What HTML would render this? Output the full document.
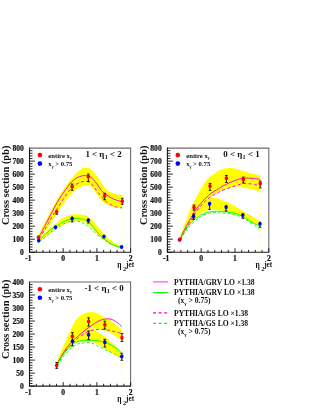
<!DOCTYPE html>
<html><head><meta charset="utf-8"><title>chart</title>
<style>
html,body{margin:0;padding:0;background:#fff;}
body{width:322px;height:416px;overflow:hidden;}
svg{display:block;will-change:transform;}
text{font-family:"Liberation Serif",serif;font-weight:bold;fill:#111;}
.tk{font-size:7.6px;stroke:#111;stroke-width:0.2px;}
.yt{font-size:10.4px;}
.xt{font-size:10.5px;font-weight:bold;}
.xs{font-size:7.3px;}
.xs2{font-size:6.5px;}
.lg{font-size:6.7px;}
.lgs{font-size:4px;}
.tt{font-size:8.9px;}
.tsub{font-size:6.2px;}
.lt{font-size:7.6px;}
.lts{font-size:4.8px;}
</style></head><body>
<svg width="322" height="416" viewBox="0 0 322 416">
<rect width="322" height="416" fill="#fff"/>
<path d="M38.20 234.50 C38.43 234.17 38.43 234.63 39.60 232.50 C40.77 230.37 43.53 224.95 45.20 221.70 C46.87 218.45 48.15 215.80 49.60 213.00 C51.05 210.20 52.47 207.52 53.90 204.90 C55.33 202.28 56.75 199.65 58.20 197.30 C59.65 194.95 61.15 192.92 62.60 190.80 C64.05 188.68 65.47 186.57 66.90 184.60 C68.33 182.63 69.58 180.97 71.20 179.00 C72.82 177.03 74.78 174.53 76.60 172.80 C78.42 171.07 80.63 169.43 82.10 168.60 C83.57 167.77 84.33 167.92 85.40 167.80 C86.47 167.68 87.60 167.70 88.50 167.90 C89.40 168.10 89.52 167.82 90.80 169.00 C92.08 170.18 94.40 172.65 96.20 175.00 C98.00 177.35 100.07 180.85 101.60 183.10 C103.13 185.35 103.87 186.97 105.40 188.50 C106.93 190.03 109.00 191.33 110.80 192.30 C112.60 193.27 114.27 193.85 116.20 194.30 C118.13 194.75 121.37 194.88 122.40 195.00 L122.40 208.00 C121.37 207.92 118.13 207.80 116.20 207.50 C114.27 207.20 112.60 206.85 110.80 206.20 C109.00 205.55 106.93 204.57 105.40 203.60 C103.87 202.63 103.13 202.10 101.60 200.40 C100.07 198.70 98.00 195.73 96.20 193.40 C94.40 191.07 92.08 187.73 90.80 186.40 C89.52 185.07 89.40 185.58 88.50 185.40 C87.60 185.22 86.47 185.13 85.40 185.30 C84.33 185.47 83.57 185.77 82.10 186.40 C80.63 187.03 78.28 187.97 76.60 189.10 C74.92 190.23 73.62 191.57 72.00 193.20 C70.38 194.83 68.47 196.95 66.90 198.90 C65.33 200.85 64.05 202.82 62.60 204.90 C61.15 206.98 59.65 209.23 58.20 211.40 C56.75 213.57 55.25 215.72 53.90 217.90 C52.55 220.08 51.40 222.48 50.10 224.50 C48.80 226.52 47.67 227.95 46.10 230.00 C44.53 232.05 41.95 235.22 40.70 236.80 C39.45 238.38 38.95 239.05 38.60 239.50 Z" fill="#ff0" stroke="none"/>
<path d="M38.40 239.00 C38.78 238.72 39.42 238.57 40.70 237.30 C41.98 236.03 44.30 233.20 46.10 231.40 C47.90 229.60 50.02 227.68 51.50 226.50 C52.98 225.32 53.52 225.45 55.00 224.30 C56.48 223.15 58.60 220.92 60.40 219.60 C62.20 218.28 64.00 217.22 65.80 216.40 C67.60 215.58 69.40 215.07 71.20 214.70 C73.00 214.33 74.78 214.20 76.60 214.20 C78.42 214.20 80.63 214.52 82.10 214.70 C83.57 214.88 83.95 214.67 85.40 215.30 C86.85 215.93 89.00 216.97 90.80 218.50 C92.60 220.03 94.40 222.42 96.20 224.50 C98.00 226.58 100.07 229.18 101.60 231.00 C103.13 232.82 103.87 233.87 105.40 235.40 C106.93 236.93 109.00 238.80 110.80 240.20 C112.60 241.60 114.40 242.78 116.20 243.80 C118.00 244.82 120.70 245.88 121.60 246.30 L121.60 247.80 C120.70 247.58 118.00 247.08 116.20 246.50 C114.40 245.92 112.60 245.28 110.80 244.30 C109.00 243.32 106.93 241.65 105.40 240.60 C103.87 239.55 103.13 239.33 101.60 238.00 C100.07 236.67 98.00 234.50 96.20 232.60 C94.40 230.70 92.60 228.28 90.80 226.60 C89.00 224.92 86.85 223.30 85.40 222.50 C83.95 221.70 83.57 222.10 82.10 221.80 C80.63 221.50 78.42 220.80 76.60 220.70 C74.78 220.60 73.00 220.78 71.20 221.20 C69.40 221.62 67.60 222.38 65.80 223.20 C64.00 224.02 62.20 225.07 60.40 226.10 C58.60 227.13 56.48 228.43 55.00 229.40 C53.52 230.37 52.98 230.75 51.50 231.90 C50.02 233.05 47.90 234.85 46.10 236.30 C44.30 237.75 41.95 239.55 40.70 240.60 C39.45 241.65 38.95 242.27 38.60 242.60 Z" fill="#ff0" stroke="none"/>
<line x1="38.60" y1="242.00" x2="38.60" y2="252.20" stroke="#ffffcc" stroke-width="0.7"/>
<line x1="122.40" y1="195.00" x2="122.40" y2="252.20" stroke="#ffffcc" stroke-width="0.7"/>
<path d="M38.90 238.50 C39.10 238.22 39.08 238.32 40.10 236.80 C41.12 235.28 43.60 231.65 45.00 229.40 C46.40 227.15 47.20 225.58 48.50 223.30 C49.80 221.02 51.18 218.40 52.80 215.70 C54.42 213.00 56.40 209.95 58.20 207.10 C60.00 204.25 61.78 201.32 63.60 198.60 C65.42 195.88 67.28 192.98 69.10 190.80 C70.92 188.62 72.70 186.87 74.50 185.50 C76.30 184.13 78.08 183.30 79.90 182.60 C81.72 181.90 83.58 181.22 85.40 181.30 C87.22 181.38 89.00 181.63 90.80 183.10 C92.60 184.57 94.40 187.85 96.20 190.10 C98.00 192.35 100.07 194.78 101.60 196.60 C103.13 198.42 103.87 199.63 105.40 201.00 C106.93 202.37 109.00 203.82 110.80 204.80 C112.60 205.78 114.35 206.37 116.20 206.90 C118.05 207.43 120.95 207.82 121.90 208.00" fill="none" stroke="#f0c" stroke-width="0.95" stroke-dasharray="3.1 2.4"/>
<path d="M39.50 241.50 C40.42 240.80 43.18 238.80 45.00 237.30 C46.82 235.80 48.60 233.95 50.40 232.50 C52.20 231.05 54.50 229.40 55.80 228.60 C57.10 227.80 56.88 228.48 58.20 227.70 C59.52 226.92 61.88 224.88 63.70 223.90 C65.52 222.92 67.30 222.28 69.10 221.80 C70.90 221.32 72.70 221.00 74.50 221.00 C76.30 221.00 78.47 221.43 79.90 221.80 C81.33 222.17 82.18 222.85 83.10 223.20 C84.02 223.55 84.12 223.05 85.40 223.90 C86.68 224.75 89.00 226.67 90.80 228.30 C92.60 229.93 94.40 232.08 96.20 233.70 C98.00 235.32 100.07 236.85 101.60 238.00 C103.13 239.15 103.87 239.58 105.40 240.60 C106.93 241.62 109.00 243.15 110.80 244.10 C112.60 245.05 114.40 245.72 116.20 246.30 C118.00 246.88 120.70 247.38 121.60 247.60" fill="none" stroke="#0f0" stroke-width="0.95" stroke-dasharray="2.6 2.3"/>
<path d="M38.50 237.30 C38.68 237.03 38.88 236.95 39.60 235.70 C40.32 234.45 41.68 231.87 42.80 229.80 C43.92 227.73 44.98 225.83 46.30 223.30 C47.62 220.77 49.25 217.40 50.70 214.60 C52.15 211.80 53.57 209.12 55.00 206.50 C56.43 203.88 57.87 201.25 59.30 198.90 C60.73 196.55 62.15 194.50 63.60 192.40 C65.05 190.30 66.67 188.03 68.00 186.30 C69.33 184.57 70.17 183.40 71.60 182.00 C73.03 180.60 74.85 178.92 76.60 177.90 C78.35 176.88 80.63 176.30 82.10 175.90 C83.57 175.50 83.95 175.28 85.40 175.50 C86.85 175.72 89.00 175.93 90.80 177.20 C92.60 178.47 94.40 180.85 96.20 183.10 C98.00 185.35 100.07 188.90 101.60 190.70 C103.13 192.50 103.87 192.73 105.40 193.90 C106.93 195.07 109.00 196.67 110.80 197.70 C112.60 198.73 114.35 199.47 116.20 200.10 C118.05 200.73 120.95 201.27 121.90 201.50" fill="none" stroke="#f0c" stroke-width="0.95"/>
<path d="M38.70 240.60 C38.93 240.42 38.87 240.68 40.10 239.50 C41.33 238.32 44.20 235.25 46.10 233.50 C48.00 231.75 50.02 230.02 51.50 229.00 C52.98 227.98 53.52 228.30 55.00 227.40 C56.48 226.50 58.60 224.72 60.40 223.60 C62.20 222.48 64.00 221.48 65.80 220.70 C67.60 219.92 69.40 219.32 71.20 218.90 C73.00 218.48 74.78 218.17 76.60 218.20 C78.42 218.23 80.63 218.82 82.10 219.10 C83.57 219.38 83.95 219.10 85.40 219.90 C86.85 220.70 89.00 222.05 90.80 223.90 C92.60 225.75 94.40 228.83 96.20 231.00 C98.00 233.17 100.07 235.38 101.60 236.90 C103.13 238.42 103.87 238.95 105.40 240.10 C106.93 241.25 109.00 242.82 110.80 243.80 C112.60 244.78 114.40 245.42 116.20 246.00 C118.00 246.58 120.70 247.08 121.60 247.30" fill="none" stroke="#0f0" stroke-width="0.95"/>
<path d="M29.50 148.10 H130.60 V252.20" fill="none" stroke="#6a6a6a" stroke-width="1.1"/>
<path d="M29.50 147.60 V252.20 H131.10" fill="none" stroke="#1a1a1a" stroke-width="1.1"/>
<line x1="29.50" y1="252.20" x2="34.90" y2="252.20" stroke="#111" stroke-width="0.9"/>
<line x1="29.50" y1="249.60" x2="32.50" y2="249.60" stroke="#111" stroke-width="0.9"/>
<line x1="29.50" y1="246.99" x2="32.50" y2="246.99" stroke="#111" stroke-width="0.9"/>
<line x1="29.50" y1="244.39" x2="32.50" y2="244.39" stroke="#111" stroke-width="0.9"/>
<line x1="29.50" y1="241.79" x2="32.50" y2="241.79" stroke="#111" stroke-width="0.9"/>
<line x1="29.50" y1="239.19" x2="34.90" y2="239.19" stroke="#111" stroke-width="0.9"/>
<line x1="29.50" y1="236.58" x2="32.50" y2="236.58" stroke="#111" stroke-width="0.9"/>
<line x1="29.50" y1="233.98" x2="32.50" y2="233.98" stroke="#111" stroke-width="0.9"/>
<line x1="29.50" y1="231.38" x2="32.50" y2="231.38" stroke="#111" stroke-width="0.9"/>
<line x1="29.50" y1="228.78" x2="32.50" y2="228.78" stroke="#111" stroke-width="0.9"/>
<line x1="29.50" y1="226.17" x2="34.90" y2="226.17" stroke="#111" stroke-width="0.9"/>
<line x1="29.50" y1="223.57" x2="32.50" y2="223.57" stroke="#111" stroke-width="0.9"/>
<line x1="29.50" y1="220.97" x2="32.50" y2="220.97" stroke="#111" stroke-width="0.9"/>
<line x1="29.50" y1="218.37" x2="32.50" y2="218.37" stroke="#111" stroke-width="0.9"/>
<line x1="29.50" y1="215.76" x2="32.50" y2="215.76" stroke="#111" stroke-width="0.9"/>
<line x1="29.50" y1="213.16" x2="34.90" y2="213.16" stroke="#111" stroke-width="0.9"/>
<line x1="29.50" y1="210.56" x2="32.50" y2="210.56" stroke="#111" stroke-width="0.9"/>
<line x1="29.50" y1="207.96" x2="32.50" y2="207.96" stroke="#111" stroke-width="0.9"/>
<line x1="29.50" y1="205.35" x2="32.50" y2="205.35" stroke="#111" stroke-width="0.9"/>
<line x1="29.50" y1="202.75" x2="32.50" y2="202.75" stroke="#111" stroke-width="0.9"/>
<line x1="29.50" y1="200.15" x2="34.90" y2="200.15" stroke="#111" stroke-width="0.9"/>
<line x1="29.50" y1="197.55" x2="32.50" y2="197.55" stroke="#111" stroke-width="0.9"/>
<line x1="29.50" y1="194.94" x2="32.50" y2="194.94" stroke="#111" stroke-width="0.9"/>
<line x1="29.50" y1="192.34" x2="32.50" y2="192.34" stroke="#111" stroke-width="0.9"/>
<line x1="29.50" y1="189.74" x2="32.50" y2="189.74" stroke="#111" stroke-width="0.9"/>
<line x1="29.50" y1="187.14" x2="34.90" y2="187.14" stroke="#111" stroke-width="0.9"/>
<line x1="29.50" y1="184.53" x2="32.50" y2="184.53" stroke="#111" stroke-width="0.9"/>
<line x1="29.50" y1="181.93" x2="32.50" y2="181.93" stroke="#111" stroke-width="0.9"/>
<line x1="29.50" y1="179.33" x2="32.50" y2="179.33" stroke="#111" stroke-width="0.9"/>
<line x1="29.50" y1="176.73" x2="32.50" y2="176.73" stroke="#111" stroke-width="0.9"/>
<line x1="29.50" y1="174.12" x2="34.90" y2="174.12" stroke="#111" stroke-width="0.9"/>
<line x1="29.50" y1="171.52" x2="32.50" y2="171.52" stroke="#111" stroke-width="0.9"/>
<line x1="29.50" y1="168.92" x2="32.50" y2="168.92" stroke="#111" stroke-width="0.9"/>
<line x1="29.50" y1="166.32" x2="32.50" y2="166.32" stroke="#111" stroke-width="0.9"/>
<line x1="29.50" y1="163.72" x2="32.50" y2="163.72" stroke="#111" stroke-width="0.9"/>
<line x1="29.50" y1="161.11" x2="34.90" y2="161.11" stroke="#111" stroke-width="0.9"/>
<line x1="29.50" y1="158.51" x2="32.50" y2="158.51" stroke="#111" stroke-width="0.9"/>
<line x1="29.50" y1="155.91" x2="32.50" y2="155.91" stroke="#111" stroke-width="0.9"/>
<line x1="29.50" y1="153.31" x2="32.50" y2="153.31" stroke="#111" stroke-width="0.9"/>
<line x1="29.50" y1="150.70" x2="32.50" y2="150.70" stroke="#111" stroke-width="0.9"/>
<line x1="29.50" y1="252.20" x2="29.50" y2="248.20" stroke="#111" stroke-width="0.9"/>
<line x1="36.24" y1="252.20" x2="36.24" y2="249.90" stroke="#111" stroke-width="0.9"/>
<line x1="42.98" y1="252.20" x2="42.98" y2="249.90" stroke="#111" stroke-width="0.9"/>
<line x1="49.72" y1="252.20" x2="49.72" y2="249.90" stroke="#111" stroke-width="0.9"/>
<line x1="56.46" y1="252.20" x2="56.46" y2="249.90" stroke="#111" stroke-width="0.9"/>
<line x1="63.20" y1="252.20" x2="63.20" y2="248.20" stroke="#111" stroke-width="0.9"/>
<line x1="69.94" y1="252.20" x2="69.94" y2="249.90" stroke="#111" stroke-width="0.9"/>
<line x1="76.68" y1="252.20" x2="76.68" y2="249.90" stroke="#111" stroke-width="0.9"/>
<line x1="83.42" y1="252.20" x2="83.42" y2="249.90" stroke="#111" stroke-width="0.9"/>
<line x1="90.16" y1="252.20" x2="90.16" y2="249.90" stroke="#111" stroke-width="0.9"/>
<line x1="96.90" y1="252.20" x2="96.90" y2="248.20" stroke="#111" stroke-width="0.9"/>
<line x1="103.64" y1="252.20" x2="103.64" y2="249.90" stroke="#111" stroke-width="0.9"/>
<line x1="110.38" y1="252.20" x2="110.38" y2="249.90" stroke="#111" stroke-width="0.9"/>
<line x1="117.12" y1="252.20" x2="117.12" y2="249.90" stroke="#111" stroke-width="0.9"/>
<line x1="123.86" y1="252.20" x2="123.86" y2="249.90" stroke="#111" stroke-width="0.9"/>
<line x1="130.60" y1="252.20" x2="130.60" y2="248.20" stroke="#111" stroke-width="0.9"/>
<text x="23.80" y="254.90" text-anchor="end" class="tk">0</text>
<text x="23.80" y="241.89" text-anchor="end" class="tk">100</text>
<text x="23.80" y="228.87" text-anchor="end" class="tk">200</text>
<text x="23.80" y="215.86" text-anchor="end" class="tk">300</text>
<text x="23.80" y="202.85" text-anchor="end" class="tk">400</text>
<text x="23.80" y="189.84" text-anchor="end" class="tk">500</text>
<text x="23.80" y="176.82" text-anchor="end" class="tk">600</text>
<text x="23.80" y="163.81" text-anchor="end" class="tk">700</text>
<text x="23.80" y="150.80" text-anchor="end" class="tk">800</text>
<text x="28.30" y="261.00" text-anchor="middle" class="tk">-1</text>
<text x="63.20" y="261.00" text-anchor="middle" class="tk">0</text>
<text x="96.90" y="261.00" text-anchor="middle" class="tk">1</text>
<text x="130.60" y="261.00" text-anchor="middle" class="tk">2</text>
<text transform="translate(9.00 185.35) rotate(-90)" text-anchor="middle" class="yt">Cross section (pb)</text>
<text transform="translate(117.30 268.00) scale(0.72 1)" class="xt">η</text>
<text x="123.00" y="270.80" class="xs2">2</text>
<text x="126.00" y="266.60" class="xs">jet</text>
<circle cx="39.90" cy="155.10" r="2.3" fill="#f00"/>
<circle cx="39.90" cy="163.60" r="2.3" fill="#00f"/>
<text x="48.30" y="157.70" class="lg">entire x<tspan class="lgs" dy="1.6">γ</tspan></text>
<text x="48.30" y="165.90" class="lg">x<tspan class="lgs" dy="1.6">γ</tspan><tspan dy="-1.6"> &gt; 0.75</tspan></text>
<text x="85.40" y="156.90" class="tt">1 &lt; η<tspan class="tsub" dx="0.3" dy="2.3">1</tspan><tspan dy="-2.3"> &lt; 2</tspan></text>
<ellipse cx="38.50" cy="237.30" rx="1.75" ry="2.05" fill="#f00"/>
<line x1="56.70" y1="209.90" x2="56.70" y2="214.30" stroke="#000" stroke-width="0.9"/>
<line x1="55.30" y1="214.30" x2="58.10" y2="214.30" stroke="#000" stroke-width="0.8"/>
<ellipse cx="56.70" cy="211.90" rx="1.75" ry="2.05" fill="#f00"/>
<line x1="72.10" y1="184.10" x2="72.10" y2="190.40" stroke="#000" stroke-width="0.9"/>
<line x1="70.70" y1="184.10" x2="73.50" y2="184.10" stroke="#000" stroke-width="0.8"/>
<line x1="70.70" y1="190.40" x2="73.50" y2="190.40" stroke="#000" stroke-width="0.8"/>
<ellipse cx="72.10" cy="186.70" rx="1.75" ry="2.05" fill="#f00"/>
<line x1="88.30" y1="174.00" x2="88.30" y2="181.40" stroke="#000" stroke-width="0.9"/>
<line x1="86.90" y1="174.00" x2="89.70" y2="174.00" stroke="#000" stroke-width="0.8"/>
<line x1="86.90" y1="181.40" x2="89.70" y2="181.40" stroke="#000" stroke-width="0.8"/>
<ellipse cx="88.30" cy="176.60" rx="1.75" ry="2.05" fill="#f00"/>
<line x1="104.60" y1="193.30" x2="104.60" y2="199.80" stroke="#000" stroke-width="0.9"/>
<line x1="103.20" y1="193.30" x2="106.00" y2="193.30" stroke="#000" stroke-width="0.8"/>
<line x1="103.20" y1="199.80" x2="106.00" y2="199.80" stroke="#000" stroke-width="0.8"/>
<ellipse cx="104.60" cy="195.80" rx="1.75" ry="2.05" fill="#f00"/>
<line x1="122.30" y1="198.30" x2="122.30" y2="204.30" stroke="#000" stroke-width="0.9"/>
<line x1="120.90" y1="198.30" x2="123.70" y2="198.30" stroke="#000" stroke-width="0.8"/>
<line x1="120.90" y1="204.30" x2="123.70" y2="204.30" stroke="#000" stroke-width="0.8"/>
<ellipse cx="122.30" cy="201.30" rx="1.75" ry="2.05" fill="#f00"/>
<ellipse cx="38.70" cy="240.60" rx="1.75" ry="2.05" fill="#00f"/>
<line x1="55.50" y1="227.30" x2="55.50" y2="229.30" stroke="#000" stroke-width="0.9"/>
<ellipse cx="55.50" cy="227.30" rx="1.75" ry="2.05" fill="#00f"/>
<line x1="72.10" y1="216.50" x2="72.10" y2="221.90" stroke="#000" stroke-width="0.9"/>
<line x1="70.70" y1="221.90" x2="73.50" y2="221.90" stroke="#000" stroke-width="0.8"/>
<ellipse cx="72.10" cy="218.50" rx="1.75" ry="2.05" fill="#00f"/>
<line x1="88.30" y1="218.20" x2="88.30" y2="223.00" stroke="#000" stroke-width="0.9"/>
<line x1="86.90" y1="223.00" x2="89.70" y2="223.00" stroke="#000" stroke-width="0.8"/>
<ellipse cx="88.30" cy="220.20" rx="1.75" ry="2.05" fill="#00f"/>
<line x1="104.00" y1="236.50" x2="104.00" y2="238.50" stroke="#000" stroke-width="0.9"/>
<ellipse cx="104.00" cy="236.50" rx="1.75" ry="2.05" fill="#00f"/>
<ellipse cx="121.60" cy="247.00" rx="1.75" ry="2.05" fill="#00f"/>
<path d="M179.50 237.50 C180.05 236.12 181.70 232.02 182.80 229.20 C183.90 226.38 185.02 223.48 186.10 220.60 C187.18 217.72 188.22 214.62 189.30 211.90 C190.38 209.18 191.58 206.45 192.60 204.30 C193.62 202.15 194.03 201.53 195.40 199.00 C196.77 196.47 199.00 192.12 200.80 189.10 C202.60 186.08 204.40 183.17 206.20 180.90 C208.00 178.63 209.78 177.03 211.60 175.50 C213.42 173.97 215.63 172.60 217.10 171.70 C218.57 170.80 218.95 170.67 220.40 170.10 C221.85 169.53 224.00 168.65 225.80 168.30 C227.60 167.95 229.40 167.88 231.20 168.00 C233.00 168.12 234.57 168.50 236.60 169.00 C238.63 169.50 241.37 170.37 243.40 171.00 C245.43 171.63 247.00 172.28 248.80 172.80 C250.60 173.32 252.30 173.65 254.20 174.10 C256.10 174.55 259.20 175.27 260.20 175.50 L260.20 191.40 C259.20 191.18 256.10 190.53 254.20 190.10 C252.30 189.67 250.60 189.25 248.80 188.80 C247.00 188.35 244.87 187.77 243.40 187.40 C241.93 187.03 241.13 186.75 240.00 186.60 C238.87 186.45 238.07 186.40 236.60 186.50 C235.13 186.60 233.00 186.87 231.20 187.20 C229.40 187.53 227.60 187.92 225.80 188.50 C224.00 189.08 222.20 189.85 220.40 190.70 C218.60 191.55 216.53 192.68 215.00 193.60 C213.47 194.52 212.55 195.28 211.20 196.20 C209.85 197.12 208.43 197.55 206.90 199.10 C205.37 200.65 203.48 203.52 202.00 205.50 C200.52 207.48 199.40 208.92 198.00 211.00 C196.60 213.08 195.05 215.67 193.60 218.00 C192.15 220.33 190.73 222.77 189.30 225.00 C187.87 227.23 186.55 228.73 185.00 231.40 C183.45 234.07 180.83 239.40 180.00 241.00 Z" fill="#ff0" stroke="none"/>
<path d="M179.50 237.50 C180.17 236.08 182.08 231.92 183.50 229.00 C184.92 226.08 186.42 222.92 188.00 220.00 C189.58 217.08 191.33 213.92 193.00 211.50 C194.67 209.08 196.42 207.17 198.00 205.50 C199.58 203.83 201.02 202.57 202.50 201.50 C203.98 200.43 205.45 199.68 206.90 199.10 C208.35 198.52 209.85 198.17 211.20 198.00 C212.55 197.83 213.47 197.87 215.00 198.10 C216.53 198.33 218.60 198.85 220.40 199.40 C222.20 199.95 224.00 200.63 225.80 201.40 C227.60 202.17 229.40 203.02 231.20 204.00 C233.00 204.98 234.57 206.08 236.60 207.30 C238.63 208.52 241.37 210.10 243.40 211.30 C245.43 212.50 247.00 213.43 248.80 214.50 C250.60 215.57 252.30 216.62 254.20 217.70 C256.10 218.78 259.20 220.45 260.20 221.00 L260.20 226.40 C259.20 225.90 256.10 224.40 254.20 223.40 C252.30 222.40 250.60 221.38 248.80 220.40 C247.00 219.42 245.43 218.50 243.40 217.50 C241.37 216.50 238.63 215.20 236.60 214.40 C234.57 213.60 233.00 213.17 231.20 212.70 C229.40 212.23 227.60 211.95 225.80 211.60 C224.00 211.25 221.93 210.93 220.40 210.60 C218.87 210.27 218.13 209.77 216.60 209.60 C215.07 209.43 213.00 209.37 211.20 209.60 C209.40 209.83 207.60 210.28 205.80 211.00 C204.00 211.72 202.20 212.65 200.40 213.90 C198.60 215.15 196.13 217.38 195.00 218.50 C193.87 219.62 194.55 219.45 193.60 220.60 C192.65 221.75 190.73 223.60 189.30 225.40 C187.87 227.20 186.55 228.80 185.00 231.40 C183.45 234.00 180.83 239.40 180.00 241.00 Z" fill="#ff0" stroke="none"/>
<line x1="179.90" y1="241.00" x2="179.90" y2="252.20" stroke="#ffffcc" stroke-width="0.7"/>
<line x1="260.20" y1="176.00" x2="260.20" y2="252.20" stroke="#ffffcc" stroke-width="0.7"/>
<path d="M180.50 239.50 C181.07 238.33 182.78 234.67 183.90 232.50 C185.02 230.33 186.12 228.40 187.20 226.50 C188.28 224.60 189.33 222.82 190.40 221.10 C191.47 219.38 192.47 217.97 193.60 216.20 C194.73 214.43 195.88 212.37 197.20 210.50 C198.52 208.63 199.88 206.82 201.50 205.00 C203.12 203.18 205.10 201.13 206.90 199.60 C208.70 198.07 210.50 196.90 212.30 195.80 C214.10 194.70 216.35 193.77 217.70 193.00 C219.05 192.23 219.05 191.85 220.40 191.20 C221.75 190.55 224.00 189.78 225.80 189.10 C227.60 188.42 229.40 187.70 231.20 187.10 C233.00 186.50 235.13 185.97 236.60 185.50 C238.07 185.03 238.87 184.63 240.00 184.30 C241.13 183.97 241.93 183.62 243.40 183.50 C244.87 183.38 247.00 183.43 248.80 183.60 C250.60 183.77 252.30 184.13 254.20 184.50 C256.10 184.87 259.20 185.58 260.20 185.80" fill="none" stroke="#f0c" stroke-width="0.95" stroke-dasharray="3.1 2.4"/>
<path d="M181.00 239.80 C181.67 238.48 183.80 233.93 185.00 231.90 C186.20 229.87 187.12 228.85 188.20 227.60 C189.28 226.35 190.42 225.48 191.50 224.40 C192.58 223.32 193.62 222.02 194.70 221.10 C195.78 220.18 196.87 219.77 198.00 218.90 C199.13 218.03 200.02 216.77 201.50 215.90 C202.98 215.03 205.10 214.25 206.90 213.70 C208.70 213.15 210.50 212.85 212.30 212.60 C214.10 212.35 216.35 212.20 217.70 212.20 C219.05 212.20 219.05 212.42 220.40 212.60 C221.75 212.78 224.00 213.08 225.80 213.30 C227.60 213.52 229.40 213.60 231.20 213.90 C233.00 214.20 234.57 214.37 236.60 215.10 C238.63 215.83 241.37 217.23 243.40 218.30 C245.43 219.37 247.00 220.42 248.80 221.50 C250.60 222.58 252.48 223.53 254.20 224.80 C255.92 226.07 258.28 228.38 259.10 229.10" fill="none" stroke="#0f0" stroke-width="0.95" stroke-dasharray="2.6 2.3"/>
<path d="M179.80 239.50 C180.30 238.42 181.75 235.17 182.80 233.00 C183.85 230.83 185.02 228.57 186.10 226.50 C187.18 224.43 188.22 222.48 189.30 220.60 C190.38 218.72 191.58 216.93 192.60 215.20 C193.62 213.47 194.10 212.08 195.40 210.20 C196.70 208.32 198.67 205.93 200.40 203.90 C202.13 201.87 204.00 199.78 205.80 198.00 C207.60 196.22 209.40 194.55 211.20 193.20 C213.00 191.85 215.07 190.85 216.60 189.90 C218.13 188.95 218.87 188.40 220.40 187.50 C221.93 186.60 224.00 185.42 225.80 184.50 C227.60 183.58 229.40 182.77 231.20 182.00 C233.00 181.23 234.97 180.48 236.60 179.90 C238.23 179.32 239.87 178.80 241.00 178.50 C242.13 178.20 242.10 178.18 243.40 178.10 C244.70 178.02 247.00 177.92 248.80 178.00 C250.60 178.08 252.30 178.38 254.20 178.60 C256.10 178.82 259.20 179.18 260.20 179.30" fill="none" stroke="#f0c" stroke-width="0.95"/>
<path d="M179.80 239.80 C180.48 238.58 182.67 234.53 183.90 232.50 C185.13 230.47 186.12 229.13 187.20 227.60 C188.28 226.07 189.33 224.57 190.40 223.30 C191.47 222.03 192.52 220.93 193.60 220.00 C194.68 219.07 195.77 218.48 196.90 217.70 C198.03 216.92 198.92 216.10 200.40 215.30 C201.88 214.50 204.00 213.52 205.80 212.90 C207.60 212.28 209.40 211.90 211.20 211.60 C213.00 211.30 215.07 211.15 216.60 211.10 C218.13 211.05 218.87 211.17 220.40 211.30 C221.93 211.43 224.00 211.70 225.80 211.90 C227.60 212.10 229.40 212.20 231.20 212.50 C233.00 212.80 234.57 212.95 236.60 213.70 C238.63 214.45 241.37 215.88 243.40 217.00 C245.43 218.12 247.00 219.33 248.80 220.40 C250.60 221.47 252.37 222.40 254.20 223.40 C256.03 224.40 258.87 225.90 259.80 226.40" fill="none" stroke="#0f0" stroke-width="0.95"/>
<path d="M167.40 148.10 H268.80 V252.20" fill="none" stroke="#6a6a6a" stroke-width="1.1"/>
<path d="M167.40 147.60 V252.20 H269.30" fill="none" stroke="#1a1a1a" stroke-width="1.1"/>
<line x1="167.40" y1="252.20" x2="172.80" y2="252.20" stroke="#111" stroke-width="0.9"/>
<line x1="167.40" y1="249.60" x2="170.40" y2="249.60" stroke="#111" stroke-width="0.9"/>
<line x1="167.40" y1="246.99" x2="170.40" y2="246.99" stroke="#111" stroke-width="0.9"/>
<line x1="167.40" y1="244.39" x2="170.40" y2="244.39" stroke="#111" stroke-width="0.9"/>
<line x1="167.40" y1="241.79" x2="170.40" y2="241.79" stroke="#111" stroke-width="0.9"/>
<line x1="167.40" y1="239.19" x2="172.80" y2="239.19" stroke="#111" stroke-width="0.9"/>
<line x1="167.40" y1="236.58" x2="170.40" y2="236.58" stroke="#111" stroke-width="0.9"/>
<line x1="167.40" y1="233.98" x2="170.40" y2="233.98" stroke="#111" stroke-width="0.9"/>
<line x1="167.40" y1="231.38" x2="170.40" y2="231.38" stroke="#111" stroke-width="0.9"/>
<line x1="167.40" y1="228.78" x2="170.40" y2="228.78" stroke="#111" stroke-width="0.9"/>
<line x1="167.40" y1="226.17" x2="172.80" y2="226.17" stroke="#111" stroke-width="0.9"/>
<line x1="167.40" y1="223.57" x2="170.40" y2="223.57" stroke="#111" stroke-width="0.9"/>
<line x1="167.40" y1="220.97" x2="170.40" y2="220.97" stroke="#111" stroke-width="0.9"/>
<line x1="167.40" y1="218.37" x2="170.40" y2="218.37" stroke="#111" stroke-width="0.9"/>
<line x1="167.40" y1="215.76" x2="170.40" y2="215.76" stroke="#111" stroke-width="0.9"/>
<line x1="167.40" y1="213.16" x2="172.80" y2="213.16" stroke="#111" stroke-width="0.9"/>
<line x1="167.40" y1="210.56" x2="170.40" y2="210.56" stroke="#111" stroke-width="0.9"/>
<line x1="167.40" y1="207.96" x2="170.40" y2="207.96" stroke="#111" stroke-width="0.9"/>
<line x1="167.40" y1="205.35" x2="170.40" y2="205.35" stroke="#111" stroke-width="0.9"/>
<line x1="167.40" y1="202.75" x2="170.40" y2="202.75" stroke="#111" stroke-width="0.9"/>
<line x1="167.40" y1="200.15" x2="172.80" y2="200.15" stroke="#111" stroke-width="0.9"/>
<line x1="167.40" y1="197.55" x2="170.40" y2="197.55" stroke="#111" stroke-width="0.9"/>
<line x1="167.40" y1="194.94" x2="170.40" y2="194.94" stroke="#111" stroke-width="0.9"/>
<line x1="167.40" y1="192.34" x2="170.40" y2="192.34" stroke="#111" stroke-width="0.9"/>
<line x1="167.40" y1="189.74" x2="170.40" y2="189.74" stroke="#111" stroke-width="0.9"/>
<line x1="167.40" y1="187.14" x2="172.80" y2="187.14" stroke="#111" stroke-width="0.9"/>
<line x1="167.40" y1="184.53" x2="170.40" y2="184.53" stroke="#111" stroke-width="0.9"/>
<line x1="167.40" y1="181.93" x2="170.40" y2="181.93" stroke="#111" stroke-width="0.9"/>
<line x1="167.40" y1="179.33" x2="170.40" y2="179.33" stroke="#111" stroke-width="0.9"/>
<line x1="167.40" y1="176.73" x2="170.40" y2="176.73" stroke="#111" stroke-width="0.9"/>
<line x1="167.40" y1="174.12" x2="172.80" y2="174.12" stroke="#111" stroke-width="0.9"/>
<line x1="167.40" y1="171.52" x2="170.40" y2="171.52" stroke="#111" stroke-width="0.9"/>
<line x1="167.40" y1="168.92" x2="170.40" y2="168.92" stroke="#111" stroke-width="0.9"/>
<line x1="167.40" y1="166.32" x2="170.40" y2="166.32" stroke="#111" stroke-width="0.9"/>
<line x1="167.40" y1="163.72" x2="170.40" y2="163.72" stroke="#111" stroke-width="0.9"/>
<line x1="167.40" y1="161.11" x2="172.80" y2="161.11" stroke="#111" stroke-width="0.9"/>
<line x1="167.40" y1="158.51" x2="170.40" y2="158.51" stroke="#111" stroke-width="0.9"/>
<line x1="167.40" y1="155.91" x2="170.40" y2="155.91" stroke="#111" stroke-width="0.9"/>
<line x1="167.40" y1="153.31" x2="170.40" y2="153.31" stroke="#111" stroke-width="0.9"/>
<line x1="167.40" y1="150.70" x2="170.40" y2="150.70" stroke="#111" stroke-width="0.9"/>
<line x1="167.40" y1="252.20" x2="167.40" y2="248.20" stroke="#111" stroke-width="0.9"/>
<line x1="174.16" y1="252.20" x2="174.16" y2="249.90" stroke="#111" stroke-width="0.9"/>
<line x1="180.92" y1="252.20" x2="180.92" y2="249.90" stroke="#111" stroke-width="0.9"/>
<line x1="187.68" y1="252.20" x2="187.68" y2="249.90" stroke="#111" stroke-width="0.9"/>
<line x1="194.44" y1="252.20" x2="194.44" y2="249.90" stroke="#111" stroke-width="0.9"/>
<line x1="201.20" y1="252.20" x2="201.20" y2="248.20" stroke="#111" stroke-width="0.9"/>
<line x1="207.96" y1="252.20" x2="207.96" y2="249.90" stroke="#111" stroke-width="0.9"/>
<line x1="214.72" y1="252.20" x2="214.72" y2="249.90" stroke="#111" stroke-width="0.9"/>
<line x1="221.48" y1="252.20" x2="221.48" y2="249.90" stroke="#111" stroke-width="0.9"/>
<line x1="228.24" y1="252.20" x2="228.24" y2="249.90" stroke="#111" stroke-width="0.9"/>
<line x1="235.00" y1="252.20" x2="235.00" y2="248.20" stroke="#111" stroke-width="0.9"/>
<line x1="241.76" y1="252.20" x2="241.76" y2="249.90" stroke="#111" stroke-width="0.9"/>
<line x1="248.52" y1="252.20" x2="248.52" y2="249.90" stroke="#111" stroke-width="0.9"/>
<line x1="255.28" y1="252.20" x2="255.28" y2="249.90" stroke="#111" stroke-width="0.9"/>
<line x1="262.04" y1="252.20" x2="262.04" y2="249.90" stroke="#111" stroke-width="0.9"/>
<line x1="268.80" y1="252.20" x2="268.80" y2="248.20" stroke="#111" stroke-width="0.9"/>
<text x="161.70" y="254.90" text-anchor="end" class="tk">0</text>
<text x="161.70" y="241.89" text-anchor="end" class="tk">100</text>
<text x="161.70" y="228.87" text-anchor="end" class="tk">200</text>
<text x="161.70" y="215.86" text-anchor="end" class="tk">300</text>
<text x="161.70" y="202.85" text-anchor="end" class="tk">400</text>
<text x="161.70" y="189.84" text-anchor="end" class="tk">500</text>
<text x="161.70" y="176.82" text-anchor="end" class="tk">600</text>
<text x="161.70" y="163.81" text-anchor="end" class="tk">700</text>
<text x="161.70" y="150.80" text-anchor="end" class="tk">800</text>
<text x="166.20" y="261.00" text-anchor="middle" class="tk">-1</text>
<text x="201.20" y="261.00" text-anchor="middle" class="tk">0</text>
<text x="235.00" y="261.00" text-anchor="middle" class="tk">1</text>
<text x="268.80" y="261.00" text-anchor="middle" class="tk">2</text>
<text transform="translate(146.90 185.35) rotate(-90)" text-anchor="middle" class="yt">Cross section (pb)</text>
<text transform="translate(255.50 268.00) scale(0.72 1)" class="xt">η</text>
<text x="261.20" y="270.80" class="xs2">2</text>
<text x="264.20" y="266.60" class="xs">jet</text>
<circle cx="177.80" cy="155.10" r="2.3" fill="#f00"/>
<circle cx="177.80" cy="163.60" r="2.3" fill="#00f"/>
<text x="186.20" y="157.70" class="lg">entire x<tspan class="lgs" dy="1.6">γ</tspan></text>
<text x="186.20" y="165.90" class="lg">x<tspan class="lgs" dy="1.6">γ</tspan><tspan dy="-1.6"> &gt; 0.75</tspan></text>
<text x="223.30" y="156.90" class="tt">0 &lt; η<tspan class="tsub" dx="0.3" dy="2.3">1</tspan><tspan dy="-2.3"> &lt; 1</tspan></text>
<ellipse cx="179.50" cy="239.80" rx="1.75" ry="2.05" fill="#00f"/>
<ellipse cx="179.90" cy="239.50" rx="1.75" ry="2.05" fill="#f00"/>
<line x1="194.00" y1="205.00" x2="194.00" y2="210.20" stroke="#000" stroke-width="0.9"/>
<line x1="192.60" y1="205.00" x2="195.40" y2="205.00" stroke="#000" stroke-width="0.8"/>
<line x1="192.60" y1="210.20" x2="195.40" y2="210.20" stroke="#000" stroke-width="0.8"/>
<ellipse cx="194.00" cy="207.60" rx="1.75" ry="2.05" fill="#f00"/>
<line x1="210.00" y1="183.40" x2="210.00" y2="190.40" stroke="#000" stroke-width="0.9"/>
<line x1="208.60" y1="183.40" x2="211.40" y2="183.40" stroke="#000" stroke-width="0.8"/>
<line x1="208.60" y1="190.40" x2="211.40" y2="190.40" stroke="#000" stroke-width="0.8"/>
<ellipse cx="210.00" cy="186.00" rx="1.75" ry="2.05" fill="#f00"/>
<line x1="226.40" y1="175.50" x2="226.40" y2="182.50" stroke="#000" stroke-width="0.9"/>
<line x1="225.00" y1="175.50" x2="227.80" y2="175.50" stroke="#000" stroke-width="0.8"/>
<line x1="225.00" y1="182.50" x2="227.80" y2="182.50" stroke="#000" stroke-width="0.8"/>
<ellipse cx="226.40" cy="178.20" rx="1.75" ry="2.05" fill="#f00"/>
<line x1="243.30" y1="177.10" x2="243.30" y2="183.00" stroke="#000" stroke-width="0.9"/>
<line x1="241.90" y1="177.10" x2="244.70" y2="177.10" stroke="#000" stroke-width="0.8"/>
<line x1="241.90" y1="183.00" x2="244.70" y2="183.00" stroke="#000" stroke-width="0.8"/>
<ellipse cx="243.30" cy="179.40" rx="1.75" ry="2.05" fill="#f00"/>
<line x1="260.20" y1="181.00" x2="260.20" y2="187.90" stroke="#000" stroke-width="0.9"/>
<line x1="258.80" y1="181.00" x2="261.60" y2="181.00" stroke="#000" stroke-width="0.8"/>
<line x1="258.80" y1="187.90" x2="261.60" y2="187.90" stroke="#000" stroke-width="0.8"/>
<ellipse cx="260.20" cy="183.40" rx="1.75" ry="2.05" fill="#f00"/>
<line x1="193.60" y1="214.10" x2="193.60" y2="219.40" stroke="#000" stroke-width="0.9"/>
<line x1="192.20" y1="214.10" x2="195.00" y2="214.10" stroke="#000" stroke-width="0.8"/>
<line x1="192.20" y1="219.40" x2="195.00" y2="219.40" stroke="#000" stroke-width="0.8"/>
<ellipse cx="193.60" cy="216.50" rx="1.75" ry="2.05" fill="#00f"/>
<line x1="209.60" y1="201.80" x2="209.60" y2="209.40" stroke="#000" stroke-width="0.9"/>
<line x1="208.20" y1="209.40" x2="211.00" y2="209.40" stroke="#000" stroke-width="0.8"/>
<ellipse cx="209.60" cy="203.80" rx="1.75" ry="2.05" fill="#00f"/>
<line x1="226.10" y1="204.90" x2="226.10" y2="211.10" stroke="#000" stroke-width="0.9"/>
<line x1="224.70" y1="211.10" x2="227.50" y2="211.10" stroke="#000" stroke-width="0.8"/>
<ellipse cx="226.10" cy="207.10" rx="1.75" ry="2.05" fill="#00f"/>
<line x1="242.80" y1="213.10" x2="242.80" y2="218.30" stroke="#000" stroke-width="0.9"/>
<line x1="241.40" y1="218.30" x2="244.20" y2="218.30" stroke="#000" stroke-width="0.8"/>
<ellipse cx="242.80" cy="215.10" rx="1.75" ry="2.05" fill="#00f"/>
<line x1="260.00" y1="221.70" x2="260.00" y2="227.30" stroke="#000" stroke-width="0.9"/>
<line x1="258.60" y1="227.30" x2="261.40" y2="227.30" stroke="#000" stroke-width="0.8"/>
<ellipse cx="260.00" cy="223.70" rx="1.75" ry="2.05" fill="#00f"/>
<path d="M56.70 361.40 C57.38 359.77 59.22 355.22 60.80 351.60 C62.38 347.98 64.62 343.13 66.20 339.70 C67.78 336.27 68.77 334.18 70.30 331.00 C71.83 327.82 73.65 323.22 75.40 320.60 C77.15 317.98 79.00 316.60 80.80 315.30 C82.60 314.00 84.40 313.35 86.20 312.80 C88.00 312.25 89.78 311.92 91.60 312.00 C93.42 312.08 95.13 312.52 97.10 313.30 C99.07 314.08 101.45 315.65 103.40 316.70 C105.35 317.75 107.00 318.48 108.80 319.60 C110.60 320.72 112.40 322.05 114.20 323.40 C116.00 324.75 118.28 326.53 119.60 327.70 C120.92 328.87 121.68 329.95 122.10 330.40 L122.10 341.30 C121.68 340.93 120.92 340.10 119.60 339.10 C118.28 338.10 116.00 336.47 114.20 335.30 C112.40 334.13 110.60 332.97 108.80 332.10 C107.00 331.23 105.20 330.55 103.40 330.10 C101.60 329.65 99.42 329.65 98.00 329.40 C96.58 329.15 96.23 328.78 94.90 328.60 C93.57 328.42 91.80 327.32 90.00 328.30 C88.20 329.28 86.27 332.63 84.10 334.50 C81.93 336.37 79.08 338.00 77.00 339.50 C74.92 341.00 73.40 341.75 71.60 343.50 C69.80 345.25 68.00 347.47 66.20 350.00 C64.40 352.53 62.38 355.87 60.80 358.70 C59.22 361.53 57.38 365.62 56.70 367.00 Z" fill="#ff0" stroke="none"/>
<path d="M56.70 364.00 C57.38 362.50 59.22 358.17 60.80 355.00 C62.38 351.83 64.40 347.83 66.20 345.00 C68.00 342.17 69.80 340.00 71.60 338.00 C73.40 336.00 74.92 334.42 77.00 333.00 C79.08 331.58 81.93 330.28 84.10 329.50 C86.27 328.72 88.20 328.20 90.00 328.30 C91.80 328.40 93.57 329.45 94.90 330.10 C96.23 330.75 96.58 331.30 98.00 332.20 C99.42 333.10 101.60 334.23 103.40 335.50 C105.20 336.77 107.00 338.25 108.80 339.80 C110.60 341.35 112.40 343.10 114.20 344.80 C116.00 346.50 118.28 348.68 119.60 350.00 C120.92 351.32 121.68 352.25 122.10 352.70 L122.10 359.40 C121.68 359.10 120.92 358.43 119.60 357.60 C118.28 356.77 116.00 355.50 114.20 354.40 C112.40 353.30 110.60 352.15 108.80 351.00 C107.00 349.85 105.20 348.58 103.40 347.50 C101.60 346.42 99.97 345.48 98.00 344.50 C96.03 343.52 93.57 342.12 91.60 341.60 C89.63 341.08 88.00 341.37 86.20 341.40 C84.40 341.43 82.60 341.50 80.80 341.80 C79.00 342.10 76.93 342.47 75.40 343.20 C73.87 343.93 73.13 344.83 71.60 346.20 C70.07 347.57 68.00 349.23 66.20 351.40 C64.40 353.57 62.38 356.60 60.80 359.20 C59.22 361.80 57.38 365.70 56.70 367.00 Z" fill="#ff0" stroke="none"/>
<line x1="122.00" y1="331.00" x2="122.00" y2="386.10" stroke="#ffffcc" stroke-width="0.7"/>
<path d="M56.70 365.40 C57.47 364.10 59.62 360.33 61.30 357.60 C62.98 354.87 64.82 351.45 66.80 349.00 C68.78 346.55 71.22 344.82 73.20 342.90 C75.18 340.98 76.88 339.03 78.70 337.50 C80.52 335.97 82.30 334.78 84.10 333.70 C85.90 332.62 87.70 331.68 89.50 331.00 C91.30 330.32 93.48 329.85 94.90 329.60 C96.32 329.35 96.77 329.53 98.00 329.50 C99.23 329.47 100.85 329.35 102.30 329.40 C103.75 329.45 105.25 329.57 106.70 329.80 C108.15 330.03 109.57 330.47 111.00 330.80 C112.43 331.13 113.87 331.45 115.30 331.80 C116.73 332.15 118.42 332.58 119.60 332.90 C120.78 333.22 121.93 333.57 122.40 333.70" fill="none" stroke="#f0c" stroke-width="0.95" stroke-dasharray="3.1 2.4"/>
<path d="M57.50 365.40 C58.42 364.02 61.18 359.48 63.00 357.10 C64.82 354.72 66.65 352.95 68.40 351.10 C70.15 349.25 71.78 347.23 73.50 346.00 C75.22 344.77 76.93 344.22 78.70 343.70 C80.47 343.18 82.30 343.03 84.10 342.90 C85.90 342.77 87.70 342.68 89.50 342.90 C91.30 343.12 93.48 343.63 94.90 344.20 C96.32 344.77 96.77 345.63 98.00 346.30 C99.23 346.97 100.85 347.52 102.30 348.20 C103.75 348.88 105.25 349.73 106.70 350.40 C108.15 351.07 109.57 351.53 111.00 352.20 C112.43 352.87 114.03 353.77 115.30 354.40 C116.57 355.03 117.52 355.40 118.60 356.00 C119.68 356.60 121.27 357.67 121.80 358.00" fill="none" stroke="#0f0" stroke-width="0.95" stroke-dasharray="2.6 2.3"/>
<path d="M56.70 365.40 C57.38 364.02 59.22 359.93 60.80 357.10 C62.38 354.27 64.53 350.78 66.20 348.40 C67.87 346.02 69.27 344.45 70.80 342.80 C72.33 341.15 73.73 340.02 75.40 338.50 C77.07 336.98 79.00 335.22 80.80 333.70 C82.60 332.18 84.40 330.75 86.20 329.40 C88.00 328.05 89.78 326.87 91.60 325.60 C93.42 324.33 95.32 322.80 97.10 321.80 C98.88 320.80 100.70 320.08 102.30 319.60 C103.90 319.12 105.25 318.97 106.70 318.90 C108.15 318.83 109.57 318.82 111.00 319.20 C112.43 319.58 113.87 320.32 115.30 321.20 C116.73 322.08 118.52 323.60 119.60 324.50 C120.68 325.40 121.43 326.25 121.80 326.60" fill="none" stroke="#f0c" stroke-width="0.95"/>
<path d="M56.70 365.40 C57.38 364.18 59.22 360.57 60.80 358.10 C62.38 355.63 64.40 352.75 66.20 350.60 C68.00 348.45 70.07 346.57 71.60 345.20 C73.13 343.83 73.87 343.15 75.40 342.40 C76.93 341.65 79.00 341.07 80.80 340.70 C82.60 340.33 84.40 340.28 86.20 340.20 C88.00 340.12 89.63 340.08 91.60 340.20 C93.57 340.32 96.22 340.67 98.00 340.90 C99.78 341.13 100.85 341.27 102.30 341.60 C103.75 341.93 105.25 342.33 106.70 342.90 C108.15 343.47 109.57 344.20 111.00 345.00 C112.43 345.80 113.87 346.68 115.30 347.70 C116.73 348.72 118.52 350.17 119.60 351.10 C120.68 352.03 121.43 352.93 121.80 353.30" fill="none" stroke="#0f0" stroke-width="0.95"/>
<path d="M29.50 282.00 H130.60 V386.10" fill="none" stroke="#6a6a6a" stroke-width="1.1"/>
<path d="M29.50 281.50 V386.10 H131.10" fill="none" stroke="#1a1a1a" stroke-width="1.1"/>
<line x1="29.50" y1="386.10" x2="34.90" y2="386.10" stroke="#111" stroke-width="0.9"/>
<line x1="29.50" y1="383.50" x2="32.50" y2="383.50" stroke="#111" stroke-width="0.9"/>
<line x1="29.50" y1="380.90" x2="32.50" y2="380.90" stroke="#111" stroke-width="0.9"/>
<line x1="29.50" y1="378.29" x2="32.50" y2="378.29" stroke="#111" stroke-width="0.9"/>
<line x1="29.50" y1="375.69" x2="32.50" y2="375.69" stroke="#111" stroke-width="0.9"/>
<line x1="29.50" y1="373.09" x2="34.90" y2="373.09" stroke="#111" stroke-width="0.9"/>
<line x1="29.50" y1="370.49" x2="32.50" y2="370.49" stroke="#111" stroke-width="0.9"/>
<line x1="29.50" y1="367.88" x2="32.50" y2="367.88" stroke="#111" stroke-width="0.9"/>
<line x1="29.50" y1="365.28" x2="32.50" y2="365.28" stroke="#111" stroke-width="0.9"/>
<line x1="29.50" y1="362.68" x2="32.50" y2="362.68" stroke="#111" stroke-width="0.9"/>
<line x1="29.50" y1="360.08" x2="34.90" y2="360.08" stroke="#111" stroke-width="0.9"/>
<line x1="29.50" y1="357.47" x2="32.50" y2="357.47" stroke="#111" stroke-width="0.9"/>
<line x1="29.50" y1="354.87" x2="32.50" y2="354.87" stroke="#111" stroke-width="0.9"/>
<line x1="29.50" y1="352.27" x2="32.50" y2="352.27" stroke="#111" stroke-width="0.9"/>
<line x1="29.50" y1="349.67" x2="32.50" y2="349.67" stroke="#111" stroke-width="0.9"/>
<line x1="29.50" y1="347.06" x2="34.90" y2="347.06" stroke="#111" stroke-width="0.9"/>
<line x1="29.50" y1="344.46" x2="32.50" y2="344.46" stroke="#111" stroke-width="0.9"/>
<line x1="29.50" y1="341.86" x2="32.50" y2="341.86" stroke="#111" stroke-width="0.9"/>
<line x1="29.50" y1="339.25" x2="32.50" y2="339.25" stroke="#111" stroke-width="0.9"/>
<line x1="29.50" y1="336.65" x2="32.50" y2="336.65" stroke="#111" stroke-width="0.9"/>
<line x1="29.50" y1="334.05" x2="34.90" y2="334.05" stroke="#111" stroke-width="0.9"/>
<line x1="29.50" y1="331.45" x2="32.50" y2="331.45" stroke="#111" stroke-width="0.9"/>
<line x1="29.50" y1="328.85" x2="32.50" y2="328.85" stroke="#111" stroke-width="0.9"/>
<line x1="29.50" y1="326.24" x2="32.50" y2="326.24" stroke="#111" stroke-width="0.9"/>
<line x1="29.50" y1="323.64" x2="32.50" y2="323.64" stroke="#111" stroke-width="0.9"/>
<line x1="29.50" y1="321.04" x2="34.90" y2="321.04" stroke="#111" stroke-width="0.9"/>
<line x1="29.50" y1="318.44" x2="32.50" y2="318.44" stroke="#111" stroke-width="0.9"/>
<line x1="29.50" y1="315.83" x2="32.50" y2="315.83" stroke="#111" stroke-width="0.9"/>
<line x1="29.50" y1="313.23" x2="32.50" y2="313.23" stroke="#111" stroke-width="0.9"/>
<line x1="29.50" y1="310.63" x2="32.50" y2="310.63" stroke="#111" stroke-width="0.9"/>
<line x1="29.50" y1="308.02" x2="34.90" y2="308.02" stroke="#111" stroke-width="0.9"/>
<line x1="29.50" y1="305.42" x2="32.50" y2="305.42" stroke="#111" stroke-width="0.9"/>
<line x1="29.50" y1="302.82" x2="32.50" y2="302.82" stroke="#111" stroke-width="0.9"/>
<line x1="29.50" y1="300.22" x2="32.50" y2="300.22" stroke="#111" stroke-width="0.9"/>
<line x1="29.50" y1="297.62" x2="32.50" y2="297.62" stroke="#111" stroke-width="0.9"/>
<line x1="29.50" y1="295.01" x2="34.90" y2="295.01" stroke="#111" stroke-width="0.9"/>
<line x1="29.50" y1="292.41" x2="32.50" y2="292.41" stroke="#111" stroke-width="0.9"/>
<line x1="29.50" y1="289.81" x2="32.50" y2="289.81" stroke="#111" stroke-width="0.9"/>
<line x1="29.50" y1="287.20" x2="32.50" y2="287.20" stroke="#111" stroke-width="0.9"/>
<line x1="29.50" y1="284.60" x2="32.50" y2="284.60" stroke="#111" stroke-width="0.9"/>
<line x1="29.50" y1="386.10" x2="29.50" y2="382.10" stroke="#111" stroke-width="0.9"/>
<line x1="36.24" y1="386.10" x2="36.24" y2="383.80" stroke="#111" stroke-width="0.9"/>
<line x1="42.98" y1="386.10" x2="42.98" y2="383.80" stroke="#111" stroke-width="0.9"/>
<line x1="49.72" y1="386.10" x2="49.72" y2="383.80" stroke="#111" stroke-width="0.9"/>
<line x1="56.46" y1="386.10" x2="56.46" y2="383.80" stroke="#111" stroke-width="0.9"/>
<line x1="63.20" y1="386.10" x2="63.20" y2="382.10" stroke="#111" stroke-width="0.9"/>
<line x1="69.94" y1="386.10" x2="69.94" y2="383.80" stroke="#111" stroke-width="0.9"/>
<line x1="76.68" y1="386.10" x2="76.68" y2="383.80" stroke="#111" stroke-width="0.9"/>
<line x1="83.42" y1="386.10" x2="83.42" y2="383.80" stroke="#111" stroke-width="0.9"/>
<line x1="90.16" y1="386.10" x2="90.16" y2="383.80" stroke="#111" stroke-width="0.9"/>
<line x1="96.90" y1="386.10" x2="96.90" y2="382.10" stroke="#111" stroke-width="0.9"/>
<line x1="103.64" y1="386.10" x2="103.64" y2="383.80" stroke="#111" stroke-width="0.9"/>
<line x1="110.38" y1="386.10" x2="110.38" y2="383.80" stroke="#111" stroke-width="0.9"/>
<line x1="117.12" y1="386.10" x2="117.12" y2="383.80" stroke="#111" stroke-width="0.9"/>
<line x1="123.86" y1="386.10" x2="123.86" y2="383.80" stroke="#111" stroke-width="0.9"/>
<line x1="130.60" y1="386.10" x2="130.60" y2="382.10" stroke="#111" stroke-width="0.9"/>
<text x="23.80" y="388.80" text-anchor="end" class="tk">0</text>
<text x="23.80" y="375.79" text-anchor="end" class="tk">50</text>
<text x="23.80" y="362.78" text-anchor="end" class="tk">100</text>
<text x="23.80" y="349.76" text-anchor="end" class="tk">150</text>
<text x="23.80" y="336.75" text-anchor="end" class="tk">200</text>
<text x="23.80" y="323.74" text-anchor="end" class="tk">250</text>
<text x="23.80" y="310.72" text-anchor="end" class="tk">300</text>
<text x="23.80" y="297.71" text-anchor="end" class="tk">350</text>
<text x="23.80" y="284.70" text-anchor="end" class="tk">400</text>
<text x="28.30" y="395.40" text-anchor="middle" class="tk">-1</text>
<text x="63.20" y="395.40" text-anchor="middle" class="tk">0</text>
<text x="96.90" y="395.40" text-anchor="middle" class="tk">1</text>
<text x="130.60" y="395.40" text-anchor="middle" class="tk">2</text>
<text transform="translate(9.00 319.25) rotate(-90)" text-anchor="middle" class="yt">Cross section (pb)</text>
<text transform="translate(117.30 402.40) scale(0.72 1)" class="xt">η</text>
<text x="123.00" y="405.20" class="xs2">2</text>
<text x="126.00" y="401.00" class="xs">jet</text>
<circle cx="39.90" cy="289.20" r="2.3" fill="#f00"/>
<circle cx="39.90" cy="297.70" r="2.3" fill="#00f"/>
<text x="48.30" y="291.80" class="lg">entire x<tspan class="lgs" dy="1.6">γ</tspan></text>
<text x="48.30" y="300.00" class="lg">x<tspan class="lgs" dy="1.6">γ</tspan><tspan dy="-1.6"> &gt; 0.75</tspan></text>
<text x="84.50" y="291.00" class="tt">-1 &lt; η<tspan class="tsub" dx="0.3" dy="2.3">1</tspan><tspan dy="-2.3"> &lt; 0</tspan></text>
<line x1="56.70" y1="362.50" x2="56.70" y2="368.40" stroke="#000" stroke-width="0.9"/>
<line x1="55.30" y1="362.50" x2="58.10" y2="362.50" stroke="#000" stroke-width="0.8"/>
<line x1="55.30" y1="368.40" x2="58.10" y2="368.40" stroke="#000" stroke-width="0.8"/>
<ellipse cx="56.70" cy="365.40" rx="1.75" ry="2.05" fill="#f00"/>
<line x1="72.40" y1="332.60" x2="72.40" y2="340.40" stroke="#000" stroke-width="0.9"/>
<line x1="71.00" y1="332.60" x2="73.80" y2="332.60" stroke="#000" stroke-width="0.8"/>
<line x1="71.00" y1="340.40" x2="73.80" y2="340.40" stroke="#000" stroke-width="0.8"/>
<ellipse cx="72.40" cy="336.40" rx="1.75" ry="2.05" fill="#f00"/>
<line x1="88.60" y1="317.80" x2="88.60" y2="326.10" stroke="#000" stroke-width="0.9"/>
<line x1="87.20" y1="317.80" x2="90.00" y2="317.80" stroke="#000" stroke-width="0.8"/>
<line x1="87.20" y1="326.10" x2="90.00" y2="326.10" stroke="#000" stroke-width="0.8"/>
<ellipse cx="88.60" cy="321.50" rx="1.75" ry="2.05" fill="#f00"/>
<line x1="104.80" y1="321.20" x2="104.80" y2="329.00" stroke="#000" stroke-width="0.9"/>
<line x1="103.40" y1="321.20" x2="106.20" y2="321.20" stroke="#000" stroke-width="0.8"/>
<line x1="103.40" y1="329.00" x2="106.20" y2="329.00" stroke="#000" stroke-width="0.8"/>
<ellipse cx="104.80" cy="324.80" rx="1.75" ry="2.05" fill="#f00"/>
<line x1="122.00" y1="333.60" x2="122.00" y2="341.50" stroke="#000" stroke-width="0.9"/>
<line x1="120.60" y1="333.60" x2="123.40" y2="333.60" stroke="#000" stroke-width="0.8"/>
<line x1="120.60" y1="341.50" x2="123.40" y2="341.50" stroke="#000" stroke-width="0.8"/>
<ellipse cx="122.00" cy="337.70" rx="1.75" ry="2.05" fill="#f00"/>
<line x1="72.40" y1="339.30" x2="72.40" y2="345.90" stroke="#000" stroke-width="0.9"/>
<line x1="71.00" y1="345.90" x2="73.80" y2="345.90" stroke="#000" stroke-width="0.8"/>
<ellipse cx="72.40" cy="341.30" rx="1.75" ry="2.05" fill="#00f"/>
<line x1="88.60" y1="331.00" x2="88.60" y2="339.70" stroke="#000" stroke-width="0.9"/>
<line x1="87.20" y1="331.00" x2="90.00" y2="331.00" stroke="#000" stroke-width="0.8"/>
<line x1="87.20" y1="339.70" x2="90.00" y2="339.70" stroke="#000" stroke-width="0.8"/>
<ellipse cx="88.60" cy="334.80" rx="1.75" ry="2.05" fill="#00f"/>
<line x1="104.80" y1="339.30" x2="104.80" y2="347.10" stroke="#000" stroke-width="0.9"/>
<line x1="103.40" y1="339.30" x2="106.20" y2="339.30" stroke="#000" stroke-width="0.8"/>
<line x1="103.40" y1="347.10" x2="106.20" y2="347.10" stroke="#000" stroke-width="0.8"/>
<ellipse cx="104.80" cy="342.20" rx="1.75" ry="2.05" fill="#00f"/>
<line x1="121.80" y1="353.30" x2="121.80" y2="360.30" stroke="#000" stroke-width="0.9"/>
<line x1="120.40" y1="353.30" x2="123.20" y2="353.30" stroke="#000" stroke-width="0.8"/>
<line x1="120.40" y1="360.30" x2="123.20" y2="360.30" stroke="#000" stroke-width="0.8"/>
<ellipse cx="121.80" cy="356.50" rx="1.75" ry="2.05" fill="#00f"/>
<line x1="153" y1="281.90" x2="167.9" y2="281.90" stroke="#f6f" stroke-width="1.4"/>
<line x1="153" y1="292.60" x2="167.9" y2="292.60" stroke="#0f0" stroke-width="1.1"/>
<line x1="153" y1="312.90" x2="167.9" y2="312.90" stroke="#f0c" stroke-width="1.1" stroke-dasharray="3 2.6"/>
<line x1="153" y1="323.40" x2="167.9" y2="323.40" stroke="#0f0" stroke-width="1.1" stroke-dasharray="3 2.6"/>
<text x="174.00" y="284.70" class="lt">PYTHIA/GRV LO ×1.38</text>
<text x="174.00" y="295.20" class="lt">PYTHIA/GRV LO ×1.38</text>
<text x="178.00" y="303.20" class="lt">(x<tspan class="lts" dy="1.5">γ</tspan><tspan dy="-1.5"> &gt; 0.75)</tspan></text>
<text x="174.00" y="315.70" class="lt">PYTHIA/GS LO ×1.38</text>
<text x="174.00" y="326.30" class="lt">PYTHIA/GS LO ×1.38</text>
<text x="178.00" y="334.00" class="lt">(x<tspan class="lts" dy="1.5">γ</tspan><tspan dy="-1.5"> &gt; 0.75)</tspan></text>
</svg>
</body></html>
